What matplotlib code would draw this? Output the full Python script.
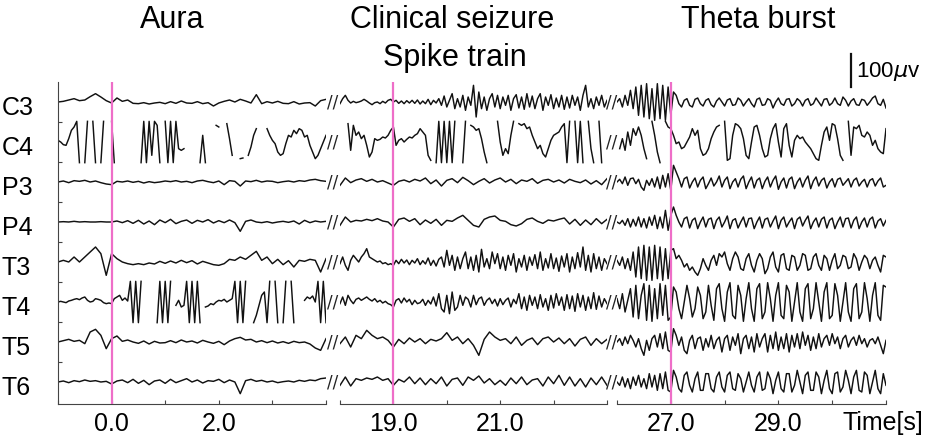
#%%
import numpy as np
import matplotlib.pyplot as plt
from matplotlib import transforms

N = np.nan  # trace off the display band (clipped)

#%%
# Canais e trechos do registro
channels = ['C3', 'C4', 'P3', 'P4', 'T3', 'T4', 'T5', 'T6']
seg_start = [-1.0, 18.0, 26.0]
seg_len = 5.0
onsets = [0.0, 19.0, 27.0]
tick_every = 1.0
label_ticks = [[0.0, 2.0], [19.0, 21.0], [27.0, 29.0]]
titles = ['Aura', 'Clinical seizure', 'Spike train', 'Theta burst']
scale_uv = 100

# amplitudes (uV), trecho 1: aura
c3_aura = [0, 2, 6, 10, 4, 6, 16, 25, 15, 4,
           -3, 12, 2, 6, -4, -5, -2, -6, -3, -1,
           -5, 1, -4, 3, -3, -4, 1, -5, -2, -12,
           -3, 2, 6, 0, 8, 3, -3, 22, -5, 1,
           -3, 2, -4, -5, 1, -6, -3, -2, -12, 4,
           8]
c4_aura = [5, 0, -8, -10, 10, 35, 45, 62, -62, N,
           -62, 62, N, 62, -62, N, -62, 62, N, N,
           62, -62, N, N, N, N, N, N, N, N,
           N, -62, 62, -62, 62, -40, 62, 50, -62, N,
           62, -62, 62, -62, 62, -20, -25, -20, N, N,
           N, N, N, -62, 20, -62, N, N, N, 50,
           45, N, N, 55, 10, -40, N, N, -50, -48,
           N, -40, -15, 20, 40, N, N, N, 40, 20,
           5, -5, -30, -40, -35, -5, 20, 15, 35, 25,
           40, 35, 15, 20, -10, -30, -50, -40, -20, 0,
           20]
p3_aura = [0, 3, -2, 4, 2, 5, 0, 3, -2, -6,
           -8, 2, 0, 3, -1, 2, -3, 1, -2, 0,
           3, 1, 4, 0, 2, -2, 3, 5, 1, -2,
           3, -8, 4, 2, -12, 3, 1, 5, 0, 3,
           2, -2, 1, 3, 0, 4, 2, 6, 8, 4,
           2]
p4_aura = [0, 1, 0, 2, 0, 1, 0, 0, 1, 0,
           0, 3, -2, 4, -4, 5, -6, 3, -8, 6,
           -2, 8, -5, 2, 6, -4, 5, 0, 7, -3,
           4, -2, 6, -2, -28, 2, 6, 0, -2, 1,
           -3, 0, 2, -1, 3, -6, 5, -2, 3, 0,
           2]
t3_aura = [0, 5, 0, 15, 0, 15, 30, 45, 25, -40,
           25, 10, 0, -5, -8, -5, -8, -3, -6, 2,
           -4, 3, -3, 5, -2, 4, -6, 2, -3, -8,
           -10, -5, 8, 5, 15, 8, 20, 32, 5, 15,
           -5, 8, -8, 4, -15, 5, 2, 8, 5, -30,
           10]
t4_aura = [0, 2, 0, -2, 3, 5, 8, 10, 7, 12,
           15, 5, 0, 2, 10, 8, 5, -2, -5, -3,
           -5, 10, 15, 20, 5, 12, 3, 62, -62, 62,
           -62, 62, N, N, N, N, N, -62, 62, -62,
           62, -62, 62, N, -10, 5, -15, -10, 62, -62,
           62, -62, 62, -62, N, -15, -12, -5, -8, 0,
           5, 3, 8, 0, 5, 10, 62, -62, 62, -62,
           62, N, N, -62, -40, -10, 20, 30, -62, 62,
           N, 62, -62, N, -62, 62, N, 62, -62, N,
           N, N, 5, 15, 10, 18, 0, 62, -62, 62,
           -62]
t5_aura = [0, 4, 8, 2, 5, -5, 30, 38, 20, -20,
           10, 18, 2, 6, 0, -4, 3, -6, 2, -3,
           -2, 4, -2, 6, 0, 3, -3, 5, 0, -4,
           2, -8, 3, 10, 14, 6, 8, 0, 4, -2,
           3, -3, 1, -4, 2, -2, 0, -6, -18, -25,
           10]
t6_aura = [0, 3, -2, 4, 1, 6, 2, 4, 0, 2,
           -6, 3, 6, -2, 8, -4, 5, -8, 3, 6,
           -4, 8, -2, 4, 10, 0, 6, -3, 4, 2,
           8, -2, 6, 0, -35, 4, 8, 2, 5, 0,
           3, -2, 1, 3, 0, 5, 2, 6, 4, 10,
           12]

# trecho 2: crise clinica / spike train
c3_seizure = [-5, 10, 20, 5, -3, 2, -2, 0, 3, 8,
              3, -3, -8, -2, 0, -5, 2, -3, 5, 8,
              0, 5, -4, 3, -5, 4, -3, 5, -4, 6,
              -6, 3, -5, 8, -8, 5, -3, 10, -10, 18,
              -15, 5, 25, -20, 10, -15, 20, -25, 15, -10,
              50, -45, 30, -20, 15, -25, 10, 25, -15, 20,
              -20, 15, -10, 20, -25, 10, 22, -18, 15, -22,
              25, -15, 18, -20, 10, 25, -25, 15, -10, 22,
              -20, 12, -15, 20, -22, 15, -18, 20, -10, 15,
              -25, 20, 50, -15, 10, -20, 15, -10, 20, -15,
              5]
c4_seizure = [N, N, N, 55, -25, 50, 20, 30, 10, 20,
              -10, -45, -30, 10, 5, 8, 15, 12, 20, 35,
              45, -10, 5, 10, 0, 8, 15, 12, 20, 25,
              40, 30, 20, -40, -55, N, -62, 62, -62, 62,
              -62, 62, -62, 62, N, N, -62, 62, N, 50,
              45, 35, 40, 10, -30, -62, N, N, N, 62,
              0, -40, -20, -35, 20, 62, N, 55, 50, 55,
              40, 45, 20, 0, -20, -10, -35, -45, -20, 5,
              20, 25, 30, 45, 55, -62, 62, N, 62, -62,
              62, -62, N, 62, -20, -62, N, 62, -62, N,
              N]
p3_seizure = [-10, 12, -2, 6, 10, 2, 8, 0, 4, -3,
              -10, 2, 6, 0, 8, 3, 12, -5, 6, -12,
              5, 10, -2, 14, 4, -8, 2, 10, -3, 6,
              12, 0, 8, -5, 6, 2, 10, -4, 5, 8,
              0, 6, -3, 8, 2, -2, 6, -6, 4, -8,
              10]
p4_seizure = [-10, 15, 0, 5, 3, 8, 4, 10, 3, 0,
              -15, 8, 12, 2, 10, -8, 6, -4, 8, -10,
              5, 2, 12, 20, 5, -10, -15, 8, 15, 18,
              5, 2, -8, -12, -5, 8, 12, 2, -4, 6,
              3, 8, 12, -6, 8, -10, 6, -8, 10, -5,
              8]
t3_seizure = [-5, 15, -10, -25, 5, 20, 10, 0, 15, 25,
              40, 15, 10, 5, 0, 3, -5, -2, -8, -5,
              -10, 5, -5, 8, -3, 6, -8, 5, -3, 10,
              -8, 4, -6, 12, -10, 5, -12, 8, 15, -15,
              35, -10, 20, -25, 15, -20, 10, 30, -20, 15,
              -25, 20, -30, 38, -15, 10, -20, 30, -5, 25,
              -20, 15, -25, 20, -10, 25, -30, 10, -15, 20,
              -25, 15, -10, 22, -20, 30, -25, 10, -18, 25,
              -20, 12, -28, 18, -15, 25, -30, 15, -20, 28,
              -15, 45, -25, 20, -30, 25, -20, 15, -25, 10,
              -5]
t4_seizure = [-5, 15, -10, 20, 5, -5, 8, 12, 5, 10,
              15, 8, 3, 10, 0, 5, -3, 2, -5, -8,
              -15, 5, 10, -3, 12, 0, 8, -8, 5, -5,
              -2, 8, -10, 5, -6, 15, -12, 25, -20, -30,
              20, -35, 30, -25, -15, 20, -10, 15, 8, -15,
              20, -8, 10, 15, -10, 5, 12, -5, 8, -12,
              10, -8, 5, 12, -15, 8, -5, 25, -20, 15,
              -25, 20, -10, 15, -20, 22, -15, 10, -25, 20,
              -18, 25, -10, 15, -25, 22, -20, 18, -28, 25,
              -15, 20, -25, 15, -20, 28, -22, 18, -15, 10,
              -5]
t5_seizure = [-5, 15, -15, 20, 10, 35, 20, 10, 15, 5,
              -15, 8, -5, 12, 0, 10, -5, 8, 3, 10,
              28, 5, 15, -5, 10, -10, -40, 8, 30, 15,
              5, 10, -5, 15, -10, 5, 12, -8, 10, 15,
              0, 12, -5, 10, -12, 8, 15, -10, 10, -5,
              8]
t6_seizure = [-10, 15, -12, 10, 5, 12, 8, 15, 5, 10,
              -10, 8, 0, 15, -5, 12, -8, 10, -5, 15,
              -12, 8, 12, -10, 15, 5, 18, -3, 10, -8,
              5, -10, 12, -5, 15, -8, 6, 10, -12, 15,
              -5, 20, -10, 15, -12, 10, -15, 12, -8, 15,
              -10]

# trecho 3: theta burst
c3_theta = [0, 10, -15, 20, -10, 35, -20, 45, -40, 50,
            -45, 55, -50, 40, -55, 55, -50, 50, -55, 45,
            -40, 30, 20, -5, -15, 5, 10, -10, -15, 8,
            12, -5, -12, 5, 10, -8, -15, 3, 12, 0,
            -12, 6, 10, -10, -8, 12, 5, -12, 0, 10,
            -5, -15, 8, 12, -10, -8, 10, 5, -18, 0,
            12, -5, -10, 8, 10, -12, -5, 10, 3, -12,
            5, 10, -10, -5, 12, 0, -12, 8, 10, -10,
            -3, 12, -5, -10, 15, 5, -12, 3, 10, -8,
            -10, 8, 5, -10, 0, 12, 18, -5, -10, 8,
            -18]
c4_theta = [N, -20, 10, -25, 30, -10, 40, 20, 45, 20,
            -20, -50, N, 62, 20, -30, -62, N, 62, 45,
            40, 20, -5, 0, -20, -15, 0, 15, 40, 20,
            35, -20, -40, -35, -20, 10, 30, 45, 50, N,
            62, -55, -50, 20, 55, 50, 40, 10, -40, -50,
            0, 45, 50, 20, -20, -45, -40, 10, 40, 55,
            0, -45, 40, 55, -10, -45, 5, 20, 10, 15,
            0, -10, -20, -35, -50, -55, -10, 30, 45, 5,
            55, 50, 10, -40, -55, N, 62, -40, 45, 40,
            50, 20, 15, 30, 20, -10, 5, -20, -30, -35,
            40]
p3_theta = [0, 8, -5, 15, -10, 10, 12, -5, 8, -15,
            -25, 5, -10, 10, -15, 15, -20, 20, -15, 25,
            -25, 50, 30, 10, -15, 10, 15, -18, 0, 12,
            -15, 5, 15, -20, -5, 12, -12, 0, 18, -15,
            5, 15, -20, 0, 10, -15, 8, 18, -20, 0,
            15, -18, 5, 12, -20, 2, 15, -15, 5, 18,
            -22, 0, 12, -18, 8, 15, -20, 0, 12, -15,
            5, 18, -20, 3, 15, -12, 5, 12, -18, 0,
            10, -15, 8, 12, -10, 0, 10, -15, 5, 12,
            -12, 0, 8, -15, 5, 10, -12, 3, 12, -15,
            -10]
p4_theta = [0, -5, 5, -10, 10, -15, 8, -12, 15, -15,
            10, -18, 15, -10, 20, -20, 15, -18, 35, -25,
            20, 45, 20, 0, -15, 10, 15, -18, 5, 12,
            -20, 0, 15, -15, 8, 12, -20, 5, 15, -15,
            0, 18, -20, 5, 10, -18, 0, 15, -15, 10,
            12, -20, 0, 15, -18, 8, 12, -15, 3, 18,
            -20, 5, 15, -15, 0, 12, -20, 8, 15, -12,
            5, 18, -20, 0, 12, -15, 8, 15, -18, 5,
            12, -20, 0, 15, -15, 10, 12, -18, 5, 15,
            -20, 0, 12, -15, 8, 15, -18, 3, 10, -12,
            5]
t3_theta = [5, -10, 15, -20, 10, -25, 30, -45, 45, -50,
            50, -55, 45, -55, 50, -50, 45, -55, 40, -50,
            35, 40, 10, 20, 5, -15, -5, -25, -15, -30,
            -40, -20, 10, -10, -25, 5, 20, -10, 25, 15,
            30, -5, -25, 10, 30, 15, -20, -25, 10, 25,
            -10, -30, 5, 25, 10, -35, -20, 15, 30, -15,
            -30, 20, 25, -20, -25, 20, 15, -25, -10, 25,
            20, -25, -20, 15, 25, -10, -25, 20, 10, -25,
            5, 25, -20, -10, 20, 15, -20, -15, 25, 10,
            -25, 0, 20, 10, -20, 5, 15, -10, -30, 20,
            15]
t4_theta = [10, -20, 25, -30, 5, 40, -45, 50, -50, 20,
            55, -55, 50, -58, 40, -50, 55, -40, 50, -55,
            -45, 45, 30, -20, -50, 0, 50, 10, -45, -20,
            45, 20, -50, -30, 50, -10, -55, 40, 55, -20,
            -58, 30, 58, -40, -50, 50, 20, -58, 10, 58,
            -20, -58, 40, 55, -50, -30, 58, 10, -58, 20,
            58, -40, -50, 50, 30, -58, 0, 58, -30, -58,
            40, 55, -50, -20, 58, 0, -58, 30, 58, -50,
            -40, 55, 20, -58, 0, 58, -30, -58, 40, 55,
            -50, -30, 58, 10, -58, 20, 58, -40, -55, 50,
            45]
t5_theta = [0, 10, -10, 15, -5, 20, 5, -15, 10, -20,
            -40, 5, -25, 10, 20, -15, 25, -20, 30, -25,
            -30, 40, 20, -10, 15, -25, -35, 5, 20, -20,
            10, 15, -25, 10, -15, 20, -20, 5, 15, -30,
            10, 20, -25, 15, -10, 25, -35, 10, 20, -20,
            15, -30, 25, -15, 10, 25, -30, 20, -20, 30,
            -25, 15, -20, 25, -30, 20, -15, 25, -20, 30,
            -10, 20, -25, 15, -20, 25, -15, 10, 20, -10,
            25, -5, 15, -20, 10, 20, -15, 5, 15, -10,
            20, -5, 10, -15, 5, 10, -5, 15, -10, -35,
            5]
t6_theta = [0, -10, 15, -15, 10, -20, 15, -10, 20, -15,
            10, -20, 25, -15, 20, -25, 25, -20, 30, -25,
            -30, 35, 15, -20, -30, 20, 30, -10, -30, 10,
            30, -25, -25, 25, 25, -20, -30, 15, 30, -15,
            -30, 20, 30, -20, -25, 25, 10, -30, 0, 30,
            -10, -30, 15, 30, -25, -20, 30, 10, -35, 5,
            30, -20, -30, 25, 25, -30, -10, 35, 0, -35,
            20, 30, -25, -25, 30, 15, -35, 5, 35, -20,
            -35, 25, 30, -30, -15, 35, 5, -35, 15, 35,
            -25, -30, 30, 20, -35, 0, 35, -20, -35, 25,
            -10]

aura = [c3_aura, c4_aura, p3_aura, p4_aura, t3_aura, t4_aura, t5_aura, t6_aura]
seizure = [c3_seizure, c4_seizure, p3_seizure, p4_seizure,
           t3_seizure, t4_seizure, t5_seizure, t6_seizure]
theta = [c3_theta, c4_theta, p3_theta, p4_theta, t3_theta, t4_theta, t5_theta, t6_theta]
segments = [aura, seizure, theta]

#%%
plt.rcParams['font.family'] = ['Liberation Sans', 'DejaVu Sans']
W, H = 927, 439
fig = plt.figure(figsize=(W / 100, H / 100), dpi=100)

spacing = 120
top, bottom = 60, -906
pink = '#ee6ec8'
axis_col = '#444444'

ax_px = [(58, 326), (340, 607), (617, 886)]
axes = []
for k, (x0, x1) in enumerate(ax_px):
    ax = fig.add_axes([x0 / W, 1 - 405 / H, (x1 - x0) / W, (405 - 83) / H])
    s = seg_start[k]
    for ch, vals in enumerate(segments[k]):
        v = np.array(vals, dtype=float)
        t = np.linspace(s, s + seg_len, len(v))
        ax.plot(t, v - ch * spacing, color='#111111', lw=1.05)
    ax.axvline(onsets[k], color=pink, lw=1.6, zorder=3)
    ax.set_xlim(s, s + seg_len)
    ax.set_ylim(bottom, top)

    ticks = np.arange(s, s + seg_len + 0.01, tick_every)
    ax.set_xticks(ticks)
    ax.set_xticklabels(['%.1f' % v if v in label_ticks[k] else '' for v in ticks])
    ax.tick_params(axis='x', direction='in', length=3, color=axis_col,
                   labelsize=18, pad=5)
    for side in ['top', 'right']:
        ax.spines[side].set_visible(False)
    ax.spines['bottom'].set_color(axis_col)
    if k == 0:
        ax.spines['left'].set_color(axis_col)
        ax.set_yticks([-spacing / 2 - spacing * i for i in range(len(channels) - 1)])
        ax.set_yticklabels([])
        ax.tick_params(axis='y', direction='in', length=3, color=axis_col)
    else:
        ax.spines['left'].set_visible(False)
        ax.set_yticks([])
    axes.append(ax)

# nomes dos canais e marcas de corte
lab_tr = transforms.blended_transform_factory(fig.transFigure, axes[0].transData)
for ch, name in enumerate(channels):
    y = -ch * spacing
    fig.text(2 / W, y - 15, name, transform=lab_tr, ha='left', va='center', fontsize=18)
    for xb in [333, 612]:
        fig.text(xb / W, y, '//', transform=lab_tr, ha='center', va='center',
                 fontsize=12, family='DejaVu Sans', color='#222222')

# titulos
fig.text(172 / W, 1 - 20 / H, titles[0], ha='center', va='center', fontsize=22)
fig.text(452 / W, 1 - 20 / H, titles[1], ha='center', va='center', fontsize=22)
fig.text(455 / W, 1 - 58 / H, titles[2], ha='center', va='center', fontsize=22)
fig.text(758 / W, 1 - 20 / H, titles[3], ha='center', va='center', fontsize=22)

# barra de escala
ax3 = axes[2]
ax3.plot([30.35, 30.35], [45, 45 + scale_uv], color='#111111', lw=1.6, clip_on=False)
ax3.text(30.45, 45 + scale_uv / 2, '%d$\\mu$v' % scale_uv, ha='left', va='center',
         fontsize=16, clip_on=False)

fig.text(883 / W, 1 - 423 / H, 'Time[s]', ha='center', va='center', fontsize=18)

plt.savefig('out.png', dpi=100)
